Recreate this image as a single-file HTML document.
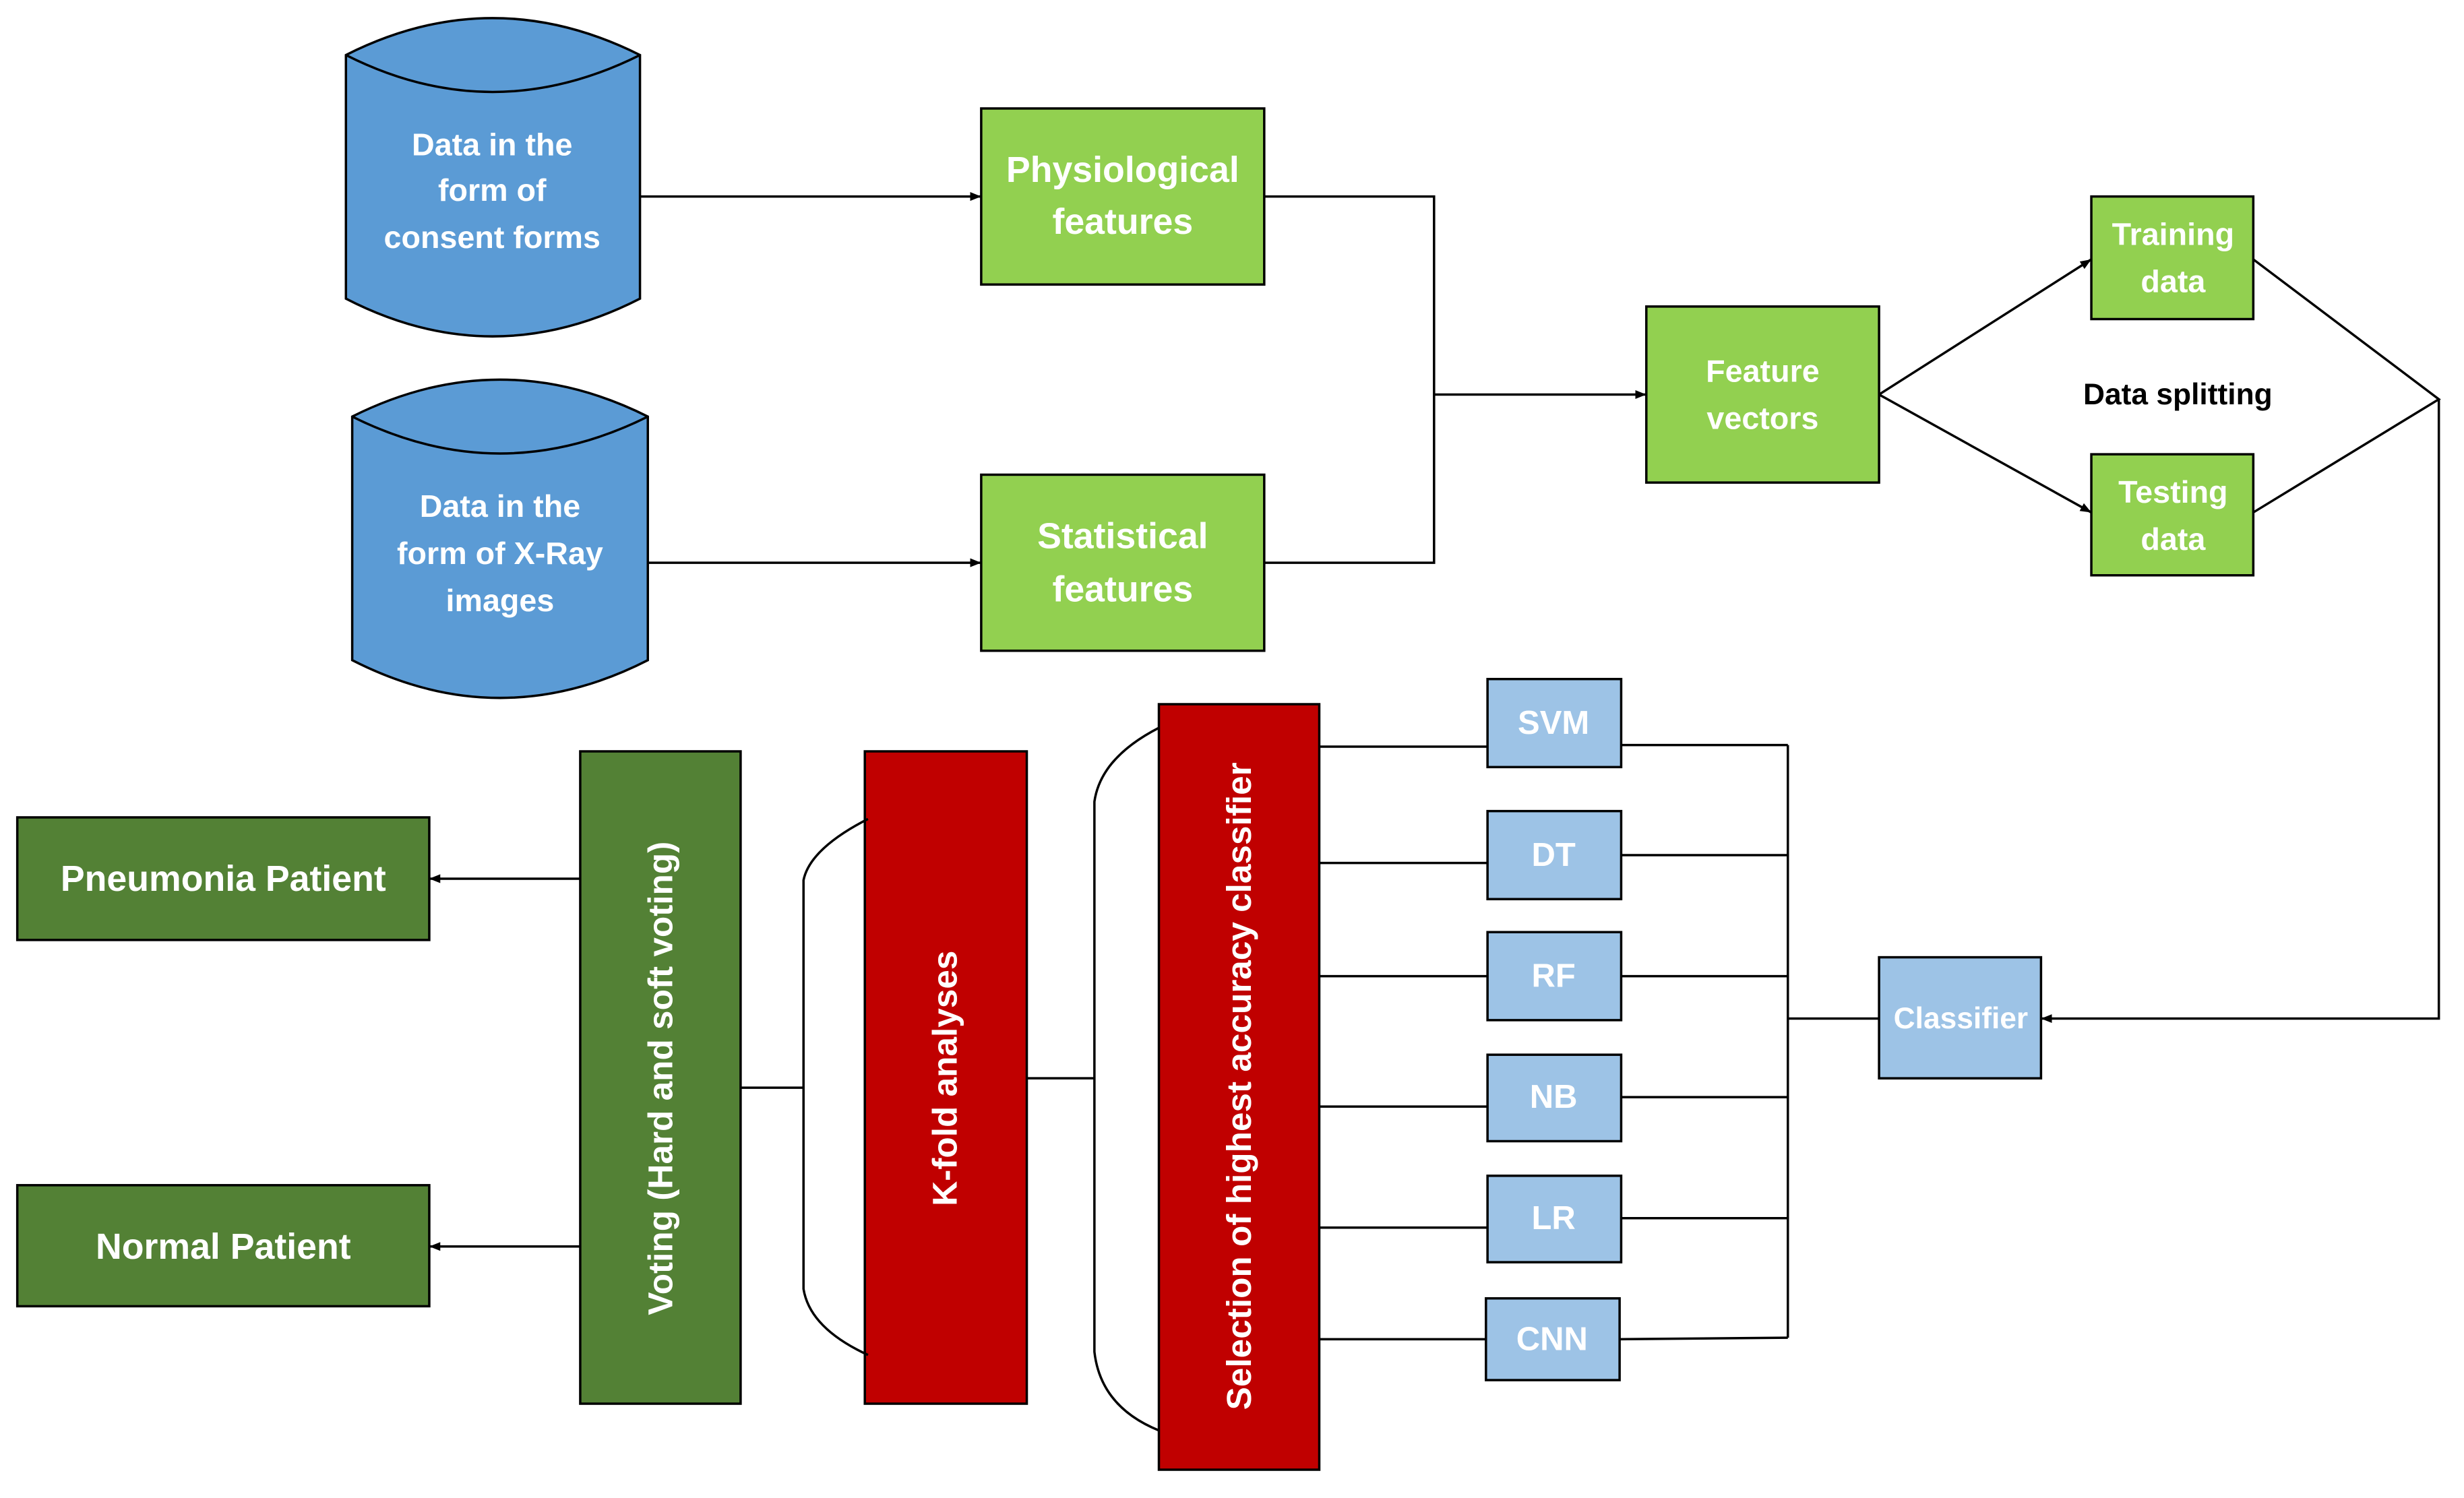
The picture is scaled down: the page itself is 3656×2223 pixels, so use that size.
<!DOCTYPE html>
<html><head><meta charset="utf-8"><style>
html,body{margin:0;padding:0;background:#fff;}
svg{display:block;}
text{font-family:"Liberation Sans",sans-serif;font-weight:bold;fill:#fff;text-anchor:middle;dominant-baseline:central;}
</style></head><body>
<svg width="3656" height="2223" viewBox="0 0 1567 953" preserveAspectRatio="none" xmlns="http://www.w3.org/2000/svg">
<defs><marker id="a" viewBox="0 0 10 10" refX="10" refY="5" markerWidth="7" markerHeight="7" markerUnits="userSpaceOnUse" orient="auto"><path d="M0,1 L10,5 L0,9 z" fill="#000"/></marker></defs>
<g stroke="#000" stroke-width="1.5" fill="none">
<path d="M220,35 Q313,-12 407,35 L407,190 Q313,238 220,190 Z" fill="#5b9bd5"/>
<path d="M220,35 Q313,82 407,35"/>
<path d="M224,265 Q318,218 412,265 L412,420 Q318,468 224,420 Z" fill="#5b9bd5"/>
<path d="M224,265 Q318,312 412,265"/>
<rect x="624" y="69" width="180" height="112" fill="#92d050"/>
<rect x="624" y="302" width="180" height="112" fill="#92d050"/>
<rect x="1047" y="195" width="148" height="112" fill="#92d050"/>
<rect x="1330" y="125" width="103" height="78" fill="#92d050"/>
<rect x="1330" y="289" width="103" height="77" fill="#92d050"/>
<line x1="407" y1="125" x2="624" y2="125" marker-end="url(#a)"/>
<line x1="412" y1="358" x2="624" y2="358" marker-end="url(#a)"/>
<polyline points="804,125 912,125 912,358 804,358"/>
<line x1="912" y1="251" x2="1047" y2="251" marker-end="url(#a)"/>
<line x1="1195" y1="251" x2="1330" y2="165" marker-end="url(#a)"/>
<line x1="1195" y1="251" x2="1330" y2="326" marker-end="url(#a)"/>
<polyline points="1433,165 1551,254 1433,326"/>
<polyline points="1551,254 1551,648 1298,648" marker-end="url(#a)"/>
<rect x="1195" y="609" width="103" height="77" fill="#9dc3e6"/>
<line x1="1137" y1="648" x2="1195" y2="648"/>
<line x1="1137" y1="474" x2="1137" y2="851"/>
<rect x="946" y="432" width="85" height="56" fill="#9dc3e6"/>
<rect x="946" y="516" width="85" height="56" fill="#9dc3e6"/>
<rect x="946" y="593" width="85" height="56" fill="#9dc3e6"/>
<rect x="946" y="671" width="85" height="55" fill="#9dc3e6"/>
<rect x="946" y="748" width="85" height="55" fill="#9dc3e6"/>
<rect x="945" y="826" width="85" height="52" fill="#9dc3e6"/>
<line x1="1031" y1="474" x2="1137" y2="474"/>
<line x1="1031" y1="544" x2="1137" y2="544"/>
<line x1="1031" y1="621" x2="1137" y2="621"/>
<line x1="1031" y1="698" x2="1137" y2="698"/>
<line x1="1031" y1="775" x2="1137" y2="775"/>
<line x1="1030" y1="852" x2="1137" y2="851"/>
<line x1="839" y1="475" x2="946" y2="475"/>
<line x1="839" y1="549" x2="946" y2="549"/>
<line x1="839" y1="621" x2="946" y2="621"/>
<line x1="839" y1="704" x2="946" y2="704"/>
<line x1="839" y1="781" x2="946" y2="781"/>
<line x1="839" y1="852" x2="945" y2="852"/>
<rect x="737" y="448" width="102" height="487" fill="#c00000"/>
<path d="M737,463 Q700,482 696,510 L696,860 Q700,895 737,910"/>
<line x1="653" y1="686" x2="696" y2="686"/>
<rect x="550" y="478" width="103" height="415" fill="#c00000"/>
<path d="M552,521 Q515,540 511,560 L511,820 Q515,845 552,862"/>
<line x1="471" y1="692" x2="511" y2="692"/>
<rect x="369" y="478" width="102" height="415" fill="#538135"/>
<line x1="369" y1="559" x2="273" y2="559" marker-end="url(#a)"/>
<line x1="369" y1="793" x2="273" y2="793" marker-end="url(#a)"/>
<rect x="11" y="520" width="262" height="78" fill="#538135"/>
<rect x="11" y="754" width="262" height="77" fill="#538135"/>
</g>
<g font-size="20">
<text x="313" y="92">Data in the</text>
<text x="313" y="121">form of</text>
<text x="313" y="151">consent forms</text>
<text x="318" y="322">Data in the</text>
<text x="318" y="352">form of X-Ray</text>
<text x="318" y="382">images</text>
<text x="1121" y="236">Feature</text>
<text x="1121" y="266">vectors</text>
<text x="1382" y="149">Training</text>
<text x="1382" y="179">data</text>
<text x="1382" y="313">Testing</text>
<text x="1382" y="343">data</text>
<text x="1247" y="648" font-size="19">Classifier</text>
</g>
<g font-size="23">
<text x="714" y="108">Physiological</text>
<text x="714" y="141">features</text>
<text x="714" y="341">Statistical</text>
<text x="714" y="375">features</text>
<text x="142" y="559">Pneumonia Patient</text>
<text x="142" y="793">Normal Patient</text>
</g>
<text x="1385" y="251" font-size="19" style="fill:#000">Data splitting</text>
<g font-size="21">
<text x="988" y="460">SVM</text>
<text x="988" y="544">DT</text>
<text x="988" y="621">RF</text>
<text x="988" y="698">NB</text>
<text x="988" y="775">LR</text>
<text x="987" y="852">CNN</text>
</g>
<g font-size="22">
<text transform="translate(788,691) rotate(-90)">Selection of highest accuracy classifier</text>
<text transform="translate(601,686) rotate(-90)">K-fold analyses</text>
<text transform="translate(420,686) rotate(-90)">Voting (Hard and soft voting)</text>
</g>
</svg>
</body></html>
